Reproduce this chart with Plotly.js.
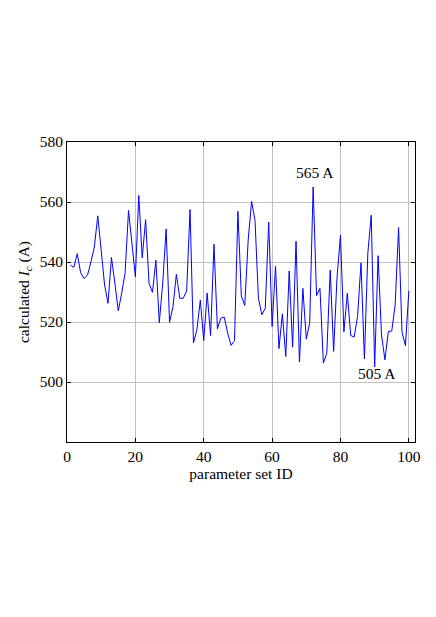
<!DOCTYPE html>
<html>
<head>
<meta charset="utf-8">
<script src="https://cdn.plot.ly/plotly-3.0.1.min.js"></script>
<style>html,body{margin:0;padding:0;background:#fff;}#chart{width:436px;height:617px;}</style>
</head>
<body>
<div id="chart"></div>
<script>
const parameterSetIds = Array.from({length: 100}, (_, i) => i + 1);
const calculatedIc = [
  539.0, 538.2, 542.8, 536.4, 534.5, 535.6, 540.0, 545.0, 555.4, 543.0,
  532.3, 526.2, 541.5, 533.0, 523.7, 529.6, 536.4, 557.2, 545.0, 535.1,
  562.2, 541.4, 554.1, 532.9, 529.9, 540.6, 519.8, 533.0, 551.0, 519.9,
  525.1, 535.9, 527.9, 527.9, 530.4, 557.5, 513.0, 517.4, 527.3, 513.8,
  529.6, 515.5, 545.9, 517.7, 521.3, 521.6, 516.3, 512.2, 513.8, 556.9,
  528.7, 525.5, 547.3, 560.2, 553.9, 527.9, 522.4, 524.6, 553.3, 518.5,
  538.6, 511.1, 522.7, 508.5, 537.0, 511.6, 546.9, 506.7, 531.2, 514.3,
  519.8, 565.0, 528.8, 531.2, 506.3, 509.6, 537.3, 510.2, 535.0, 548.9,
  516.7, 529.6, 515.5, 515.0, 521.8, 539.7, 507.7, 543.0, 555.6, 505.0,
  542.1, 515.7, 507.4, 516.8, 517.0, 525.7, 551.5, 516.6, 512.1, 530.4
];
const xTicks = [0, 20, 40, 60, 80, 100];
const yTicks = [500, 520, 540, 560, 580];
const notes = [
  {x: 72.5, y: 570, text: "565 A"},
  {x: 90.6, y: 502.7, text: "505 A"}
];

const font = {family: "Liberation Serif, DejaVu Serif, serif", size: 15.5, color: "#000"};

Plotly.newPlot("chart", [{
  x: parameterSetIds,
  y: calculatedIc,
  type: "scatter",
  mode: "lines",
  line: {color: "#0000ff", width: 1},
  hoverinfo: "skip"
}], {
  width: 436, height: 617,
  margin: {l: 67, r: 21, t: 142, b: 175},
  paper_bgcolor: "#fff", plot_bgcolor: "#fff",
  showlegend: false,
  font: font,
  xaxis: {
    range: [0, 101.8], tickvals: xTicks, ticktext: xTicks.map(String),
    showgrid: true, gridcolor: "#bfbfbf", gridwidth: 1,
    zeroline: false, showline: true, linecolor: "#000", linewidth: 1, mirror: "ticks",
    ticks: "inside", ticklen: 4, tickcolor: "#000",
    tickfont: font,
    title: {text: "parameter set ID", font: font, standoff: 4}
  },
  yaxis: {
    range: [480, 580], tickvals: yTicks, ticktext: yTicks.map(String),
    showgrid: true, gridcolor: "#bfbfbf", gridwidth: 1,
    zeroline: false, showline: true, linecolor: "#000", linewidth: 1, mirror: "ticks",
    ticks: "inside", ticklen: 4, tickcolor: "#000",
    tickfont: font,
    title: {text: "calculated <i>I</i><sub><i>c</i></sub> (A)", font: font, standoff: 6}
  },
  annotations: notes.map(n => ({
    x: n.x, y: n.y, xref: "x", yref: "y", text: n.text, showarrow: false,
    xanchor: "center", yanchor: "middle", font: font
  }))
}, {staticPlot: true, displayModeBar: false});
</script>
</body>
</html>
